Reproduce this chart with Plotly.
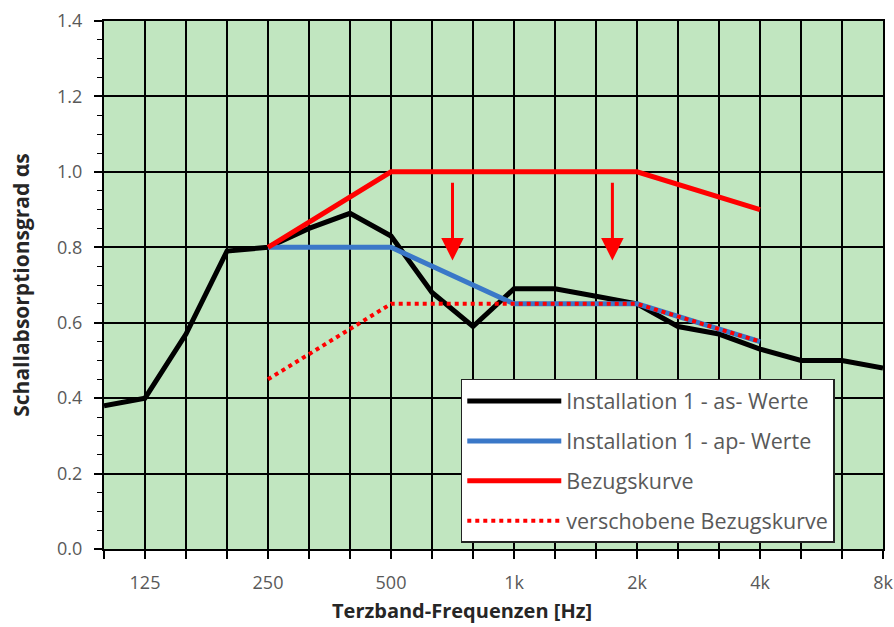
import plotly.graph_objects as go

# Third-octave band centre frequencies (categories)
freqs = ["100", "125", "160", "200", "250", "315", "400", "500", "630", "800",
         "1k", "1.25k", "1.6k", "2k", "2.5k", "3.15k", "4k", "5k", "6.3k", "8k"]
tick_labels = ["", "125", "", "", "250", "", "", "500", "", "",
               "1k", "", "", "2k", "", "", "4k", "", "", "8k"]

# Installation 1 - as values (all third-octave bands)
as_values = [0.38, 0.40, 0.57, 0.79, 0.80, 0.85, 0.89, 0.83, 0.68, 0.59,
             0.69, 0.69, 0.67, 0.65, 0.59, 0.57, 0.53, 0.50, 0.50, 0.48]

# Octave-band curves
octave_freqs = ["250", "500", "1k", "2k", "4k"]
ap_values = [0.80, 0.80, 0.65, 0.65, 0.55]
ref_curve = [0.80, 1.00, 1.00, 1.00, 0.90]
shifted_ref = [0.45, 0.65, 0.65, 0.65, 0.55]

# Shift arrows (position between bands, start value, end value)
arrow_pos = [8.5, 12.4]
arrow_from = [0.975, 0.975]
arrow_to = [0.765, 0.765]

idx = {f: i for i, f in enumerate(freqs)}
x_all = [idx[f] for f in freqs]
x_oct = [idx[f] for f in octave_freqs]

FONT = "Open Sans, Noto Sans, sans-serif"

fig = go.Figure()
fig.add_trace(go.Scatter(x=x_all, y=as_values, mode="lines",
                         name="Installation 1 - as- Werte", legendgroup="a",
                         line=dict(color="black", width=5)))
fig.add_trace(go.Scatter(x=x_oct, y=ap_values, mode="lines",
                         name="Installation 1 - ap- Werte", legendgroup="b",
                         line=dict(color="#3a78c8", width=5)))
fig.add_trace(go.Scatter(x=x_oct, y=ref_curve, mode="lines",
                         name="Bezugskurve", legendgroup="c",
                         line=dict(color="#ff0000", width=5)))
fig.add_trace(go.Scatter(x=x_oct, y=shifted_ref, mode="lines",
                         name="verschobene Bezugskurve", legendgroup="d",
                         line=dict(color="#ff0000", width=4, dash="dot")))

for xp, y0, y1 in zip(arrow_pos, arrow_from, arrow_to):
    fig.add_annotation(x=xp, y=y1, ax=xp, ay=y0, xref="x", yref="y",
                       axref="x", ayref="y", text="", showarrow=True,
                       arrowhead=2, arrowsize=1.5, arrowwidth=3,
                       arrowcolor="#ff0000")

# x-axis title (centred like the original chart)
fig.add_annotation(text="<b>Terzband-Frequenzen [Hz]</b>", xref="paper", yref="paper",
                   x=0.46, y=-0.116, xanchor="center", yanchor="middle",
                   showarrow=False,
                   font=dict(family=FONT, size=20, color="#262626"))

tick_font = dict(family=FONT, size=18, color="#595959")

fig.update_layout(
    width=894, height=627,
    margin=dict(l=104, r=11, t=21, b=78),
    paper_bgcolor="white",
    plot_bgcolor="rgb(193,230,192)",
    showlegend=True,
    legend=dict(x=0.458, y=0.322, xanchor="left", yanchor="top",
                bgcolor="white", bordercolor="#222222", borderwidth=1.5,
                font=dict(family=FONT, size=21.5, color="#595959"),
                tracegroupgap=9, itemwidth=94),
    xaxis=dict(
        range=[0, 19], tickmode="array", tickvals=x_all, ticktext=tick_labels,
        showgrid=True, gridcolor="black", gridwidth=1.5,
        showline=True, linecolor="black", linewidth=2, mirror=True,
        ticks="outside", ticklen=8, tickcolor="black", tickwidth=1.5,
        tickfont=tick_font, zeroline=False, automargin=False,
        ticklabelstandoff=8,
    ),
    yaxis=dict(
        range=[0, 1.4], dtick=0.2, tickformat=".1f",
        showgrid=True, gridcolor="black", gridwidth=1.5,
        showline=True, linecolor="black", linewidth=2, mirror=True,
        ticks="outside", ticklen=8, tickcolor="black", tickwidth=1.5,
        minor=dict(dtick=0.05, ticks="outside", ticklen=5, tickcolor="black",
                   tickwidth=1.2, showgrid=False),
        tickfont=tick_font, zeroline=False, automargin=False,
        ticklabelstandoff=8,
        title=dict(text="<b>Schallabsorptionsgrad αs</b>",
                   font=dict(family=FONT, size=21, color="#262626"), standoff=22),
    ),
)

fig.write_html("out.html")
